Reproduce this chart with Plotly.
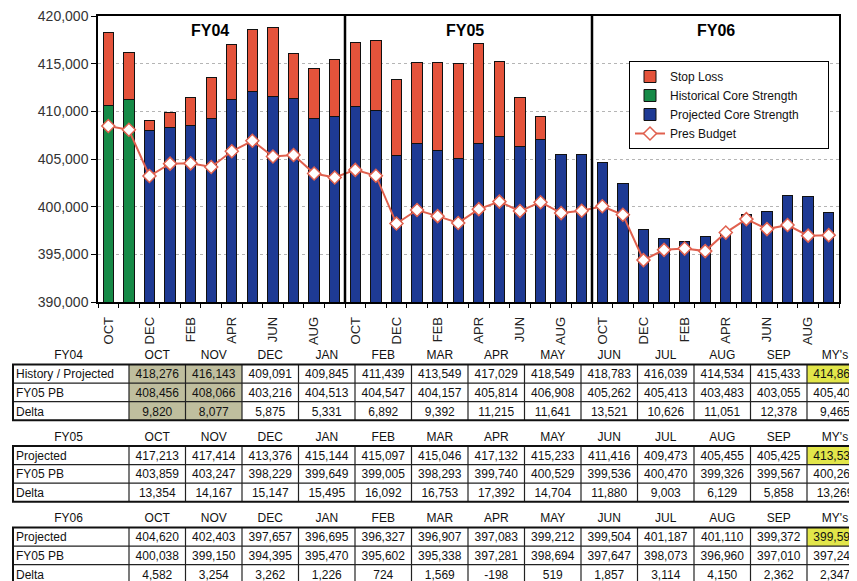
import plotly.graph_objects as go

# ---------------- data ----------------
months = ["OCT", "NOV", "DEC", "JAN", "FEB", "MAR", "APR", "MAY", "JUN", "JUL", "AUG", "SEP"]
fiscal_years = ["FY04", "FY05", "FY06"]
row_labels_fy04 = ["History / Projected", "FY05 PB", "Delta"]
row_labels_other = ["Projected", "FY05 PB", "Delta"]
my_label = "MY's"

fy04_projected = [418276, 416143, 409091, 409845, 411439, 413549, 417029, 418549, 418783, 416039, 414534, 415433]
fy04_pb = [408456, 408066, 403216, 404513, 404547, 404157, 405814, 406908, 405262, 405413, 403483, 403055]
fy04_delta = [9820, 8077, 5875, 5331, 6892, 9392, 11215, 11641, 13521, 10626, 11051, 12378]
fy04_my = [414865, 405400, 9465]

fy05_projected = [417213, 417414, 413376, 415144, 415097, 415046, 417132, 415233, 411416, 409473, 405455, 405425]
fy05_pb = [403859, 403247, 398229, 399649, 399005, 398293, 399740, 400529, 399536, 400470, 399326, 399567]
fy05_delta = [13354, 14167, 15147, 15495, 16092, 16753, 17392, 14704, 11880, 9003, 6129, 5858]
fy05_my = [413536, 400266, 13269]

fy06_projected = [404620, 402403, 397657, 396695, 396327, 396907, 397083, 399212, 399504, 401187, 401110, 399372]
fy06_pb = [400038, 399150, 394395, 395470, 395602, 395338, 397281, 398694, 397647, 398073, 396960, 397010]
fy06_delta = [4582, 3254, 3262, 1226, 724, 1569, -198, 519, 1857, 3114, 4150, 2362]
fy06_my = [399592, 397245, 2347]

# core strength (FY04 OCT/NOV are historical)
historical_core_fy04 = [410650, 411280]
projected_core_fy04 = [None, None, 407970, 408310, 408560, 409220, 411210, 412050, 411600, 411300, 409300, 409500]
projected_core_fy05 = [410550, 410100, 405420, 406600, 405870, 405100, 406600, 407370, 406300, 407000, 405455, 405425]
projected_core_fy06 = list(fy06_projected)

# ---------------- derived series ----------------
n = len(months) * len(fiscal_years)
idx = list(range(n))
totals = fy04_projected + fy05_projected + fy06_projected
pres_budget = fy04_pb + fy05_pb + fy06_pb
hist_core = historical_core_fy04 + [None] * (n - len(historical_core_fy04))
proj_core = projected_core_fy04 + projected_core_fy05 + projected_core_fy06
core = [h if h is not None else p for h, p in zip(hist_core, proj_core)]
stop_loss = [(t - c) if (t - c) > 0 else None for t, c in zip(totals, core)]

tick_vals = [i for i in idx if i % 2 == 0]
tick_text = [months[i % 12] for i in tick_vals]
boundaries = [i - 0.5 for i in range(n + 1)]

FONT = "Liberation Sans, Arial, sans-serif"
RED = "#E4533B"
GREEN = "#168A47"
BLUE = "#1E3A94"
LINE = "#E0604E"
W, H = 857, 581
OFF = 8  # page body margin offset
LEG_PAD = "\u00a0" * 7


def px_x(v):
    return (v - OFF) / W


def px_y(v):
    return 1 - (v - OFF) / H


fig = go.Figure()
fig.add_trace(go.Bar(x=idx, y=proj_core, name="Projected Core Strength" + LEG_PAD,
                     marker=dict(color=BLUE, line=dict(color="#111111", width=1)), legendrank=3))
fig.add_trace(go.Bar(x=idx, y=hist_core, name="Historical Core Strength" + LEG_PAD,
                     marker=dict(color=GREEN, line=dict(color="#111111", width=1)), legendrank=2))
fig.add_trace(go.Bar(x=idx, y=stop_loss, name="Stop Loss",
                     marker=dict(color=RED, line=dict(color="#111111", width=1)), legendrank=1))
fig.add_trace(go.Scatter(x=idx, y=pres_budget, name="Pres Budget", mode="lines+markers",
                         line=dict(color=LINE, width=2),
                         marker=dict(symbol="diamond", size=10, color="white", line=dict(color=LINE, width=1.5)),
                         legendrank=4))
# carrier for boundary tick marks
fig.add_trace(go.Scatter(x=[None], y=[None], xaxis="x2", yaxis="y", showlegend=False, hoverinfo="skip"))

# ---------------- tables ----------------
def fmt(v):
    return f"{v:,}"


def nb(s):
    return s.replace(" ", "\u00a0")


CLEAR = "rgba(0,0,0,0)"
OLIVE = "#BFBE9E"
YELLOW = "#E2E64A"
GRID = "#222222"
HDR_H = 19
CELL_H = 18.6
TEXT_LIFT = 3.2          # table text sits low in its cell; grid drawn slightly lower
grid_tops = [364.5, 446, 527.5]   # page px of each table's body top border
TABLE_LEFT = 13
col_widths = [116] + [56.5] * len(months) + [56]
x_edges = [TABLE_LEFT]
for w in col_widths:
    x_edges.append(x_edges[-1] + w)
RIGHT_OUT = 880

shapes = []


def add_grid(body_top, shaded_cols):
    bottom = body_top + 3 * CELL_H
    # fills (below text)
    for j in shaded_cols:
        shapes.append(dict(type="rect", xref="paper", yref="paper", layer="below",
                           x0=px_x(x_edges[j + 1]), x1=px_x(x_edges[j + 2]),
                           y0=px_y(bottom), y1=px_y(body_top), fillcolor=OLIVE, line=dict(width=0)))
    shapes.append(dict(type="rect", xref="paper", yref="paper", layer="below",
                       x0=px_x(x_edges[-2]), x1=px_x(x_edges[-1]),
                       y0=px_y(body_top + CELL_H), y1=px_y(body_top), fillcolor=YELLOW, line=dict(width=0)))
    # inner horizontal lines
    for r in (1, 2):
        yy = px_y(body_top + r * CELL_H)
        shapes.append(dict(type="line", xref="paper", yref="paper", x0=px_x(TABLE_LEFT), x1=px_x(RIGHT_OUT),
                           y0=yy, y1=yy, line=dict(color=GRID, width=1.2)))
    # inner vertical lines
    for xe in x_edges[1:-1]:
        shapes.append(dict(type="line", xref="paper", yref="paper", x0=px_x(xe), x1=px_x(xe),
                           y0=px_y(bottom), y1=px_y(body_top), line=dict(color=GRID, width=1.2)))
    # outer border
    shapes.append(dict(type="rect", xref="paper", yref="paper", x0=px_x(TABLE_LEFT), x1=px_x(RIGHT_OUT),
                       y0=px_y(bottom), y1=px_y(body_top), line=dict(color="#111111", width=2)))


def make_table(fy, labels, proj, pb, delta, my, grid_top, shaded_cols):
    add_grid(grid_top, shaded_cols)
    header_vals = [fy] + months + [my_label]
    cols = [[nb(s) for s in labels]] + [[fmt(a), fmt(b), fmt(c)] for a, b, c in zip(proj, pb, delta)] + [[fmt(v) for v in my]]
    body_top = grid_top - TEXT_LIFT
    top = body_top - HDR_H
    bottom = min(body_top + 3 * CELL_H + 14, OFF + H)
    left = TABLE_LEFT - 5
    widths = [col_widths[0] + 5] + col_widths[1:]
    return go.Table(
        domain=dict(x=[px_x(left), px_x(x_edges[-1])], y=[px_y(bottom), px_y(top)]),
        columnwidth=widths,
        header=dict(values=header_vals, align="center", height=HDR_H,
                    fill=dict(color=CLEAR), line=dict(color=CLEAR, width=0),
                    font=dict(family=FONT, size=12, color="#111111")),
        cells=dict(values=cols, align=["left"] + ["center"] * (len(months) + 1), height=CELL_H,
                   fill=dict(color=CLEAR), line=dict(color=CLEAR, width=0),
                   font=dict(family=FONT, size=12, color="#111111")),
    )


fig.add_trace(make_table(fiscal_years[0], row_labels_fy04, fy04_projected, fy04_pb, fy04_delta, fy04_my, grid_tops[0], [0, 1]))
fig.add_trace(make_table(fiscal_years[1], row_labels_other, fy05_projected, fy05_pb, fy05_delta, fy05_my, grid_tops[1], []))
fig.add_trace(make_table(fiscal_years[2], row_labels_other, fy06_projected, fy06_pb, fy06_delta, fy06_my, grid_tops[2], []))

# ---------------- layout ----------------
x_dom = [px_x(98), px_x(839)]
y_dom = [px_y(302), px_y(16)]

for k in range(1, len(fiscal_years)):
    xb = k * len(months) - 0.5
    shapes.append(dict(type="line", xref="x", yref="y domain", x0=xb, x1=xb, y0=0, y1=1,
                       line=dict(color="black", width=2.5)))

fy_label_x = [4.95, 17.35, 29.5]
annotations = [dict(x=xv, y=0.948, xref="x", yref="y domain", text=f"<b>{fy}</b>", showarrow=False,
                    xanchor="center", yanchor="middle",
                    font=dict(family=FONT, size=16, color="black"))
               for xv, fy in zip(fy_label_x, fiscal_years)]

fig.update_layout(
    width=W, height=H,
    margin=dict(l=0, r=0, t=0, b=0, autoexpand=False),
    paper_bgcolor="white", plot_bgcolor="white",
    barmode="stack", bargap=0.5,
    font=dict(family=FONT, color="#222222"),
    showlegend=True,
    legend=dict(x=px_x(629), y=px_y(61), xanchor="left", yanchor="top", bgcolor="white",
                bordercolor="black", borderwidth=1, traceorder="normal", tracegroupgap=0,
                font=dict(family=FONT, size=12, color="#111111"), itemwidth=30),
    xaxis=dict(domain=x_dom, range=[-0.5, n - 0.5], tickmode="array", tickvals=tick_vals, ticktext=tick_text,
               tickangle=-90, ticks="", showline=True, linecolor="black", linewidth=1.5, mirror=True,
               showgrid=False, zeroline=False, tickfont=dict(family=FONT, size=13, color="#222222"),
               ticklabelstandoff=8, ticklabeloverflow="allow", automargin=False, anchor="y"),
    xaxis2=dict(overlaying="x", anchor="y", range=[-0.5, n - 0.5], tickmode="array", tickvals=boundaries,
                ticks="outside", ticklen=5, tickcolor="black", tickwidth=1, showticklabels=False,
                showgrid=False, showline=False, zeroline=False, side="bottom", automargin=False),
    yaxis=dict(domain=y_dom, range=[390000, 420000], dtick=5000, tickformat=",", ticks="outside", ticklen=5,
               tickcolor="black", showline=True, linecolor="black", linewidth=1.5, mirror=True,
               showgrid=True, gridcolor="#B5B5B5", griddash="dot", gridwidth=1, zeroline=False,
               ticklabeloverflow="allow", automargin=False,
               tickfont=dict(family=FONT, size=14, color="#333333")),
    shapes=shapes,
    annotations=annotations,
)

fig.write_html("out.html")
